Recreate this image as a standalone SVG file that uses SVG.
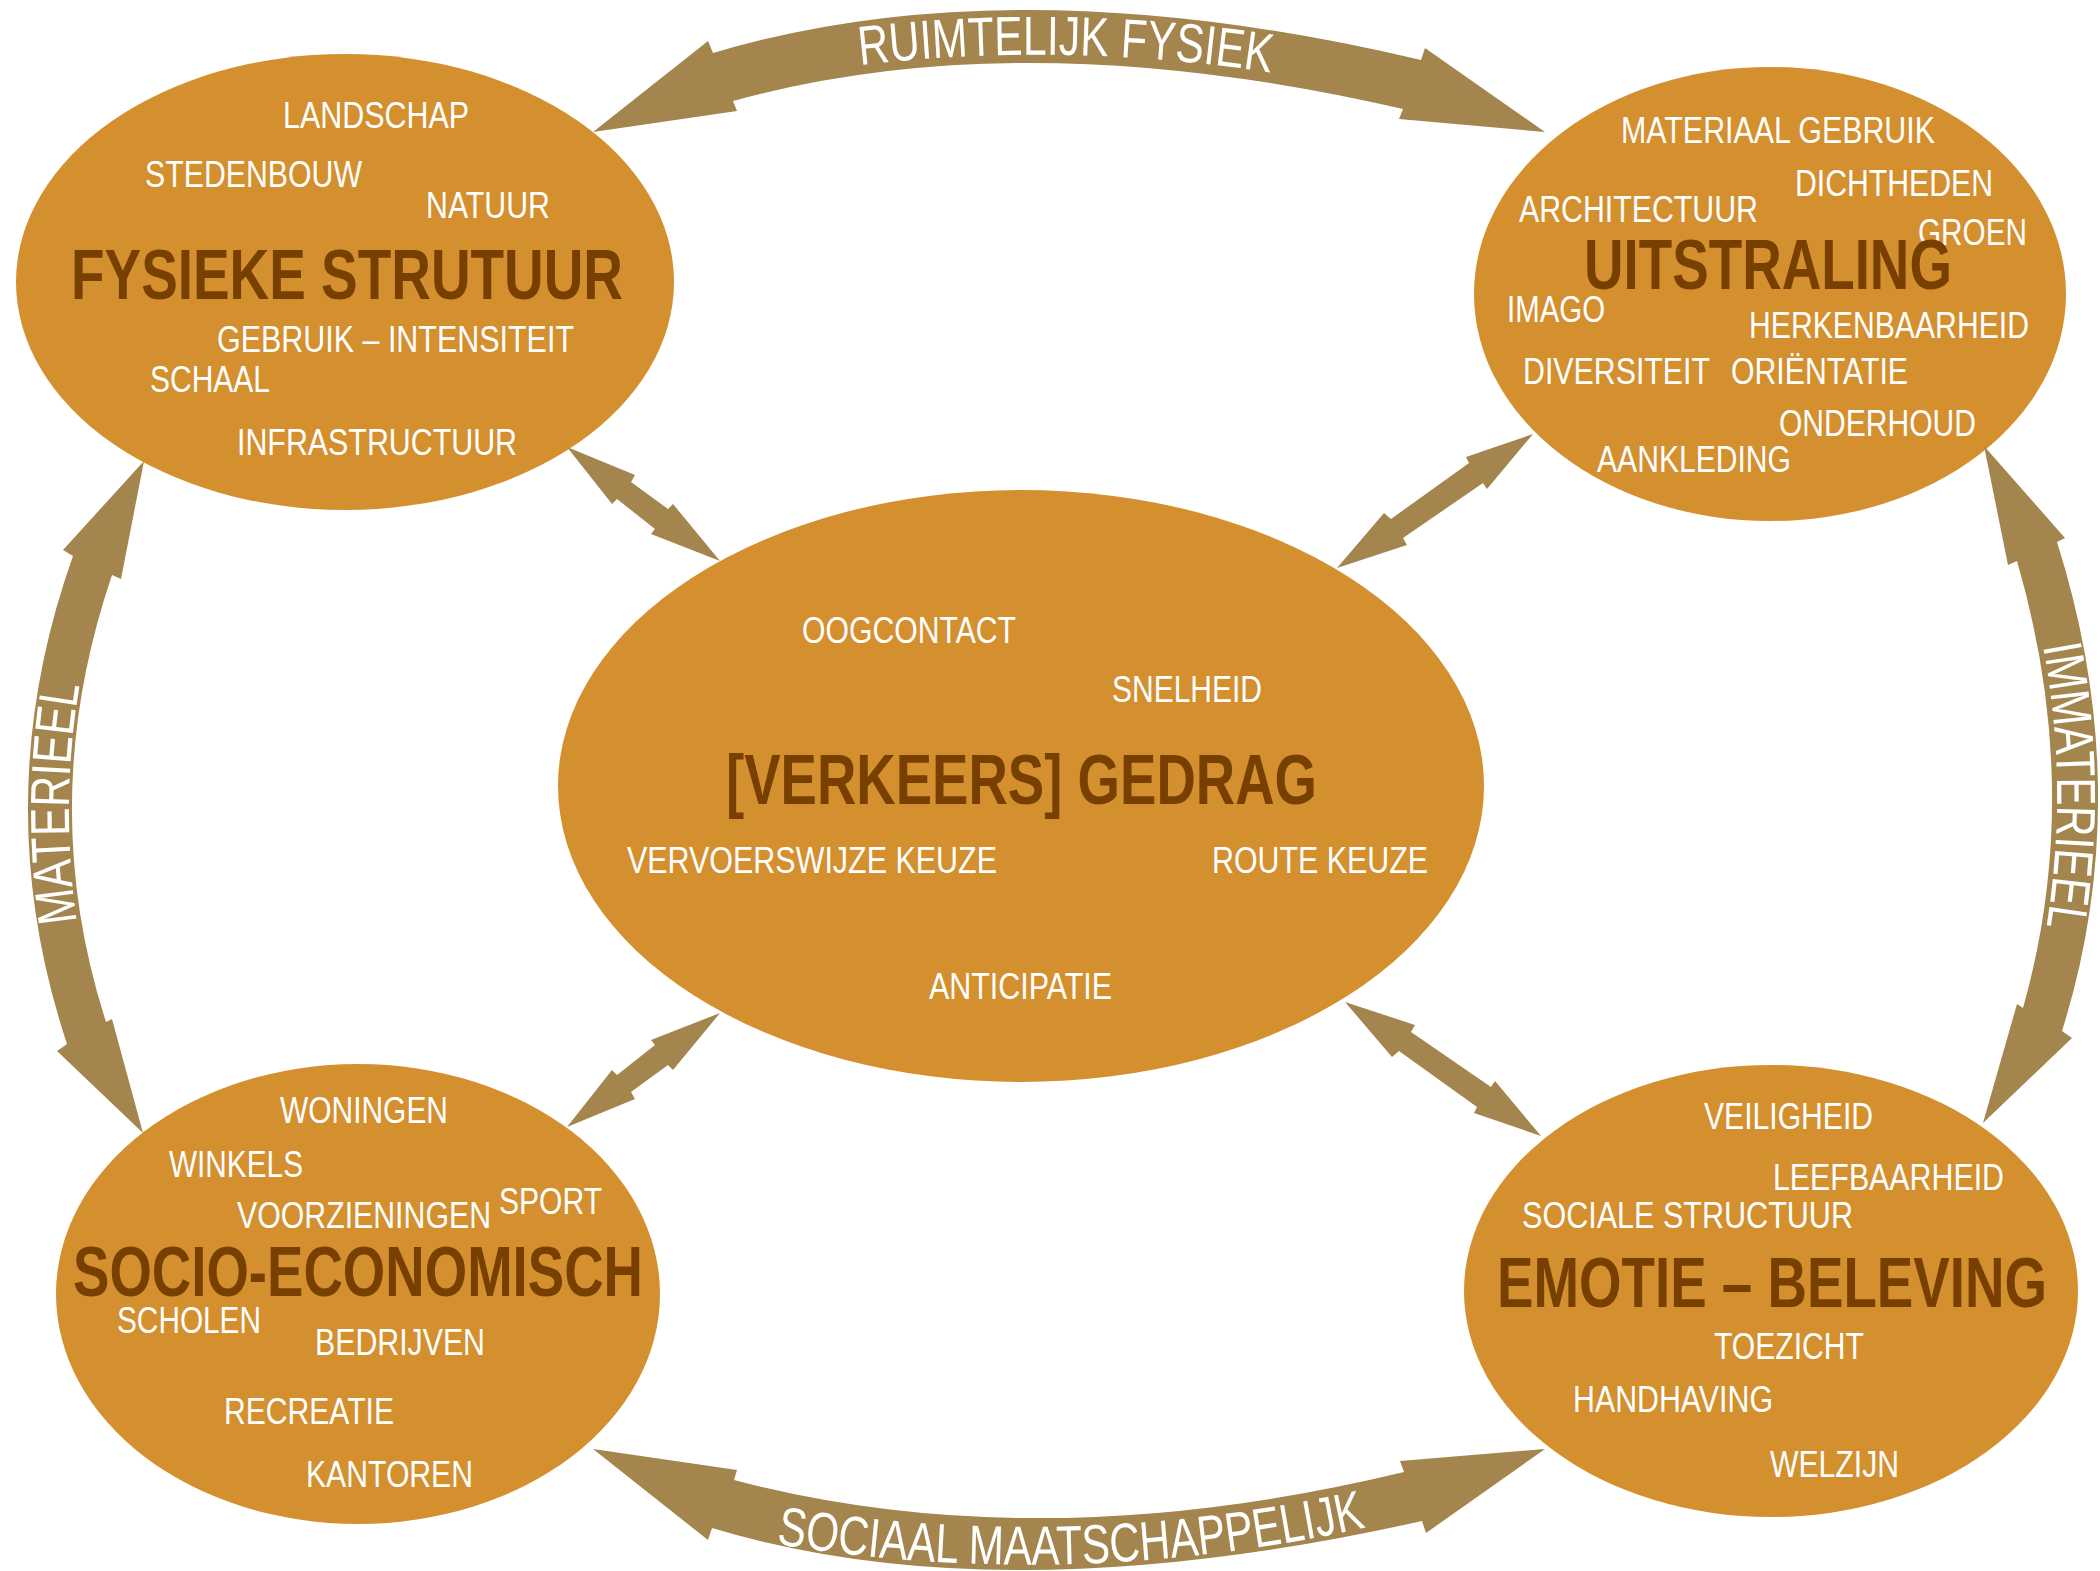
<svg xmlns="http://www.w3.org/2000/svg" xmlns:xlink="http://www.w3.org/1999/xlink" width="2100" height="1571" viewBox="0 0 2100 1571">
<style>
.node ellipse{fill:#D48F2F}
.t{font-family:"Liberation Sans",Arial,sans-serif;font-size:36px;fill:#FFFFFF}
.h{font-family:"Liberation Sans",Arial,sans-serif;font-size:70px;font-weight:bold;fill:#773F00}
.arrow{fill:#A3854D}
.al{font-family:"Liberation Sans",Arial,sans-serif;font-size:55px;fill:#FFFFFF}
</style>
<defs>
<path id="pTop" d="M 860,65 Q 1067,41 1274,73"/>
<path id="pBot" d="M 776,1544 Q 1072,1592.5 1368,1527"/>
<path id="pLeft" d="M 77,922 Q 59.5,803.5 80,683"/>
<path id="pRight" d="M 2043,646 Q 2069.5,788 2046,930"/>
</defs>
<rect width="2100" height="1571" fill="#FFFFFF"/>

<g id="node-fysieke" class="node">
<ellipse cx="345" cy="282" rx="329" ry="228"/>
<text class="t" x="283" y="128" textLength="186" lengthAdjust="spacingAndGlyphs">LANDSCHAP</text>
<text class="t" x="145" y="187" textLength="217" lengthAdjust="spacingAndGlyphs">STEDENBOUW</text>
<text class="t" x="426" y="218" textLength="124" lengthAdjust="spacingAndGlyphs">NATUUR</text>
<text class="h" x="71" y="299" textLength="552" lengthAdjust="spacingAndGlyphs">FYSIEKE STRUTUUR</text>
<text class="t" x="217" y="352" textLength="357" lengthAdjust="spacingAndGlyphs">GEBRUIK – INTENSITEIT</text>
<text class="t" x="150" y="392" textLength="120" lengthAdjust="spacingAndGlyphs">SCHAAL</text>
<text class="t" x="237" y="455" textLength="280" lengthAdjust="spacingAndGlyphs">INFRASTRUCTUUR</text>
</g>

<g id="node-uitstraling" class="node">
<ellipse cx="1770" cy="294" rx="296" ry="227"/>
<text class="t" x="1621" y="143" textLength="314" lengthAdjust="spacingAndGlyphs">MATERIAAL GEBRUIK</text>
<text class="t" x="1795" y="196" textLength="198" lengthAdjust="spacingAndGlyphs">DICHTHEDEN</text>
<text class="t" x="1519" y="222" textLength="239" lengthAdjust="spacingAndGlyphs">ARCHITECTUUR</text>
<text class="t" x="1918" y="245" textLength="109" lengthAdjust="spacingAndGlyphs">GROEN</text>
<text class="h" x="1584" y="289" textLength="368" lengthAdjust="spacingAndGlyphs">UITSTRALING</text>
<text class="t" x="1507" y="322" textLength="98" lengthAdjust="spacingAndGlyphs">IMAGO</text>
<text class="t" x="1749" y="338" textLength="280" lengthAdjust="spacingAndGlyphs">HERKENBAARHEID</text>
<text class="t" x="1523" y="384" textLength="187" lengthAdjust="spacingAndGlyphs">DIVERSITEIT</text>
<text class="t" x="1731" y="384" textLength="177" lengthAdjust="spacingAndGlyphs">ORIËNTATIE</text>
<text class="t" x="1779" y="436" textLength="197" lengthAdjust="spacingAndGlyphs">ONDERHOUD</text>
<text class="t" x="1597" y="472" textLength="194" lengthAdjust="spacingAndGlyphs">AANKLEDING</text>
</g>

<g id="node-gedrag" class="node">
<ellipse cx="1021" cy="786" rx="463" ry="296"/>
<text class="t" x="802" y="643" textLength="214" lengthAdjust="spacingAndGlyphs">OOGCONTACT</text>
<text class="t" x="1112" y="702" textLength="150" lengthAdjust="spacingAndGlyphs">SNELHEID</text>
<text class="h" x="726" y="804" textLength="591" lengthAdjust="spacingAndGlyphs">[VERKEERS] GEDRAG</text>
<text class="t" x="627" y="873" textLength="370" lengthAdjust="spacingAndGlyphs">VERVOERSWIJZE KEUZE</text>
<text class="t" x="1212" y="873" textLength="216" lengthAdjust="spacingAndGlyphs">ROUTE KEUZE</text>
<text class="t" x="929" y="999" textLength="183" lengthAdjust="spacingAndGlyphs">ANTICIPATIE</text>
</g>

<g id="node-socio" class="node">
<ellipse cx="358" cy="1294" rx="302" ry="230"/>
<text class="t" x="280" y="1123" textLength="168" lengthAdjust="spacingAndGlyphs">WONINGEN</text>
<text class="t" x="169" y="1177" textLength="134" lengthAdjust="spacingAndGlyphs">WINKELS</text>
<text class="t" x="237" y="1228" textLength="254" lengthAdjust="spacingAndGlyphs">VOORZIENINGEN</text>
<text class="t" x="499" y="1214" textLength="103" lengthAdjust="spacingAndGlyphs">SPORT</text>
<text class="h" x="73" y="1296" textLength="570" lengthAdjust="spacingAndGlyphs">SOCIO-ECONOMISCH</text>
<text class="t" x="117" y="1333" textLength="144" lengthAdjust="spacingAndGlyphs">SCHOLEN</text>
<text class="t" x="315" y="1355" textLength="170" lengthAdjust="spacingAndGlyphs">BEDRIJVEN</text>
<text class="t" x="224" y="1424" textLength="170" lengthAdjust="spacingAndGlyphs">RECREATIE</text>
<text class="t" x="306" y="1487" textLength="167" lengthAdjust="spacingAndGlyphs">KANTOREN</text>
</g>

<g id="node-emotie" class="node">
<ellipse cx="1771" cy="1291" rx="307" ry="226"/>
<text class="t" x="1704" y="1129" textLength="169" lengthAdjust="spacingAndGlyphs">VEILIGHEID</text>
<text class="t" x="1773" y="1190" textLength="231" lengthAdjust="spacingAndGlyphs">LEEFBAARHEID</text>
<text class="t" x="1522" y="1228" textLength="331" lengthAdjust="spacingAndGlyphs">SOCIALE STRUCTUUR</text>
<text class="h" x="1497" y="1307" textLength="550" lengthAdjust="spacingAndGlyphs">EMOTIE – BELEVING</text>
<text class="t" x="1714" y="1359" textLength="150" lengthAdjust="spacingAndGlyphs">TOEZICHT</text>
<text class="t" x="1573" y="1412" textLength="200" lengthAdjust="spacingAndGlyphs">HANDHAVING</text>
<text class="t" x="1770" y="1477" textLength="129" lengthAdjust="spacingAndGlyphs">WELZIJN</text>
</g>

<g id="connectors">
<path class="arrow" d="M 593,132 L 708,41 L 713,53 Q 1013,-36.5 1421,60 L 1425,48 L 1545,132 L 1399,119 L 1403,109 Q 1022,21 733,101 L 737,111 Z"/>
<path class="arrow" d="M 593,1449 L 737,1470 L 734,1480 Q 1039,1560 1404,1472 L 1400,1461 L 1545,1449 L 1426,1533 L 1422,1521 Q 1001,1615.5 712,1528 L 708,1540 Z"/>
<path class="arrow" d="M 144,461 L 121,579 L 112,575 Q 35,801.5 106,1022 L 112,1019 L 143,1133 L 57,1051 L 67,1044 Q -14,800 73,556 L 63,550 Z"/>
<path class="arrow" d="M 1984,446 L 2065,538 L 2057,542 Q 2136.5,793.5 2062,1031 L 2072,1038 L 1983,1123 L 2017,1004 L 2023,1008 Q 2084,791.5 2017,561 L 2008,565 Z"/>
<polygon class="arrow" points="567,447 635,475 631,482 668,509 673,504 720,561 651,534 655,529 617,499 612,504"/>
<polygon class="arrow" points="1533,434 1466,457 1469,463 1391,519 1384,513 1337,568 1407,545 1403,538 1483,483 1487,489"/>
<polygon class="arrow" points="567,1127 635,1099 631,1092 668,1065 673,1070 720,1013 651,1040 655,1045 617,1075 612,1070"/>
<polygon class="arrow" points="1541,1136 1474,1113 1477,1107 1399,1051 1392,1057 1345,1002 1415,1025 1411,1032 1491,1087 1495,1081"/>
<text class="al"><textPath xlink:href="#pTop" href="#pTop" textLength="412" lengthAdjust="spacingAndGlyphs">RUIMTELIJK FYSIEK</textPath></text>
<text class="al"><textPath xlink:href="#pBot" href="#pBot" textLength="594" lengthAdjust="spacingAndGlyphs">SOCIAAL MAATSCHAPPELIJK</textPath></text>
<text class="al"><textPath xlink:href="#pLeft" href="#pLeft" textLength="238" lengthAdjust="spacingAndGlyphs">MATERIEEL</textPath></text>
<text class="al"><textPath xlink:href="#pRight" href="#pRight" textLength="282" lengthAdjust="spacingAndGlyphs">IMMATERIEEL</textPath></text>
</g>
</svg>
